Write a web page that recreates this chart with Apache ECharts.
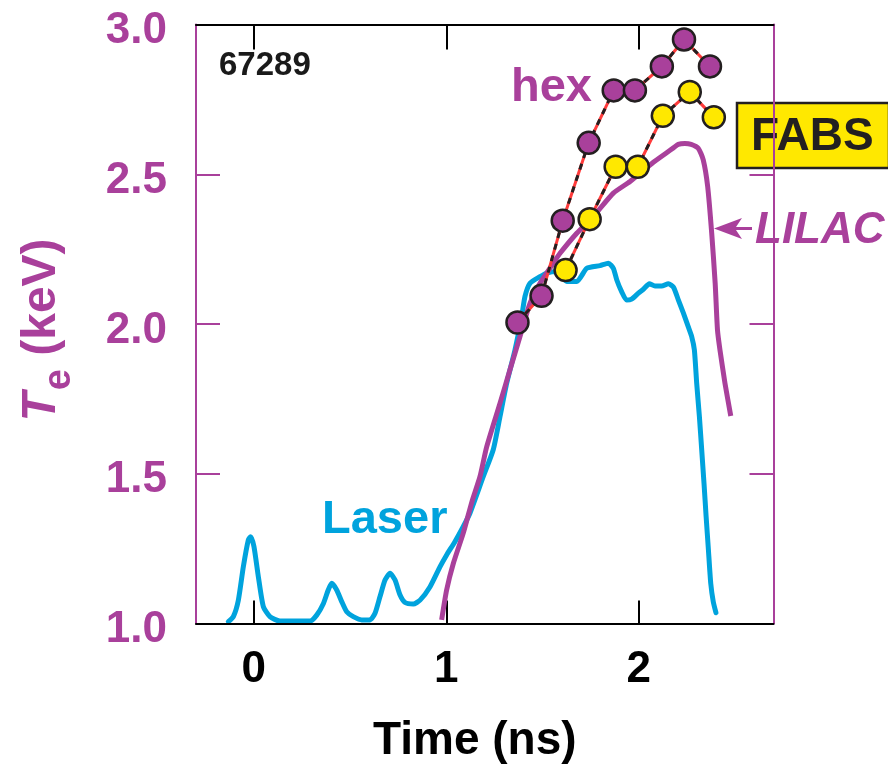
<!DOCTYPE html>
<html>
<head>
<meta charset="utf-8">
<script src="https://cdn.jsdelivr.net/npm/echarts@6/dist/echarts.min.js"></script>
<style>
  html, body { margin: 0; padding: 0; background: #fff; }
  #chart { width: 888px; height: 769px; }
</style>
</head>
<body>
<div id="chart"></div>
<script>
// Shot 67289: electron temperature vs time
const shotNumber = '67289';

// Laser pulse shape (scaled onto the Te axis)
const laserTime = [-0.132, -0.106, -0.08, -0.054, -0.028, -0.016, 0.001, 0.024, 0.05, 0.084, 0.136, 0.292, 0.327, 0.362, 0.387, 0.405, 0.431, 0.457, 0.483, 0.517, 0.561, 0.604, 0.63, 0.656, 0.682, 0.708, 0.734, 0.76, 0.786, 0.829, 0.864, 0.916, 0.968, 1.002, 1.045, 1.088, 1.123, 1.192, 1.244, 1.279, 1.314, 1.357, 1.392, 1.409, 1.435, 1.487, 1.522, 1.574, 1.626, 1.678, 1.73, 1.799, 1.842, 1.868, 1.886, 1.911, 1.937, 1.963, 1.998, 2.024, 2.055, 2.084, 2.119, 2.154, 2.18, 2.206, 2.232, 2.257, 2.275, 2.289, 2.301, 2.315, 2.327, 2.339, 2.35, 2.362, 2.374, 2.387, 2.401];
const laserTe = [1.006, 1.023, 1.078, 1.19, 1.279, 1.29, 1.257, 1.156, 1.056, 1.023, 1.008, 1.008, 1.028, 1.067, 1.112, 1.134, 1.112, 1.073, 1.039, 1.023, 1.012, 1.012, 1.034, 1.09, 1.145, 1.168, 1.145, 1.095, 1.07, 1.065, 1.078, 1.123, 1.19, 1.229, 1.273, 1.323, 1.368, 1.49, 1.58, 1.69, 1.802, 1.913, 2.025, 2.092, 2.136, 2.158, 2.17, 2.175, 2.142, 2.142, 2.186, 2.195, 2.203, 2.186, 2.147, 2.108, 2.08, 2.083, 2.103, 2.116, 2.134, 2.127, 2.127, 2.134, 2.123, 2.08, 2.036, 1.991, 1.958, 1.913, 1.802, 1.691, 1.58, 1.468, 1.357, 1.245, 1.134, 1.073, 1.036];

// LILAC simulation
const lilacTime = [0.976, 1.002, 1.037, 1.088, 1.135, 1.175, 1.21, 1.279, 1.331, 1.383, 1.435, 1.487, 1.556, 1.591, 1.678, 1.764, 1.868, 1.955, 2.076, 2.145, 2.18, 2.205, 2.24, 2.272, 2.309, 2.335, 2.358, 2.379, 2.397, 2.409, 2.422, 2.448, 2.478];
const lilacTe = [1.012, 1.112, 1.201, 1.301, 1.41, 1.49, 1.59, 1.735, 1.847, 1.958, 2.069, 2.136, 2.203, 2.236, 2.303, 2.359, 2.437, 2.476, 2.54, 2.572, 2.588, 2.6, 2.603, 2.6, 2.587, 2.548, 2.459, 2.303, 2.136, 1.98, 1.913, 1.802, 1.693];

// Measured: hex and FABS
const hexTime = [1.37, 1.495, 1.605, 1.74, 1.87, 1.98, 2.12, 2.235, 2.37];
const hexTe = [2.005, 2.094, 2.345, 2.605, 2.78, 2.78, 2.86, 2.95, 2.86];
const fabsTime = [1.62, 1.745, 1.88, 1.995, 2.125, 2.265, 2.39];
const fabsTe = [2.18, 2.35, 2.525, 2.525, 2.695, 2.775, 2.69];

// Axis ticks
const xTicks = [0, 1, 2];
const yTicks = [1.0, 1.5, 2.0, 2.5, 3.0];

const PURPLE = '#A9409B';
const CYAN = '#00A3DD';
const YELLOW = '#FFE800';
const RED = '#FF3B3B';
const INK = '#231F20';
const FONT = '"Liberation Sans", Arial, Helvetica, sans-serif';

const zip = (xs, ys) => xs.map((x, i) => [x, ys[i]]);

const chart = echarts.init(document.getElementById('chart'), null, { renderer: 'canvas' });

const connector = (name, data) => [
  {
    name: name, type: 'line', data: data, symbol: 'none', z: 3,
    lineStyle: { color: RED, width: 3 }
  },
  {
    name: name + ' dash', type: 'line', data: data, symbol: 'none', z: 4,
    lineStyle: { color: INK, width: 3, type: [6, 6] }
  }
];

const markers = (name, data, fill) => ({
  name: name, type: 'scatter', data: data, symbol: 'circle', symbolSize: 22, z: 5,
  itemStyle: { color: fill, borderColor: INK, borderWidth: 2.5, opacity: 1 }
});

const hexData = zip(hexTime, hexTe);
const fabsData = zip(fabsTime, fabsTe);

chart.setOption({
  animation: false,
  backgroundColor: '#fff',
  textStyle: { fontFamily: FONT },
  grid: { left: 196, right: 114.5, top: 24.5, bottom: 145.5, outerBoundsMode: 'none' },
  xAxis: [
    {
      type: 'value', position: 'bottom', min: -0.3, max: 2.7, z: 2,
      axisLine: { onZero: false, lineStyle: { color: '#000', width: 2 } },
      axisTick: { inside: true, length: 23, customValues: xTicks, lineStyle: { color: '#000', width: 2 } },
      axisLabel: {
        customValues: xTicks, margin: 24, color: '#000', fontSize: 44, fontWeight: 'bold',
        fontFamily: FONT, lineHeight: 44
      },
      splitLine: { show: false },
      name: 'Time (ns)', nameLocation: 'middle', nameGap: 95,
      nameTextStyle: { color: '#000', fontSize: 46, fontWeight: 'bold', fontFamily: FONT, lineHeight: 46, padding: [0, 20, 0, 0] }
    },
    {
      type: 'value', position: 'top', min: -0.3, max: 2.7, z: 2,
      axisLine: { onZero: false, lineStyle: { color: '#000', width: 2 } },
      axisTick: { inside: true, length: 25, customValues: xTicks, lineStyle: { color: '#000', width: 2 } },
      axisLabel: { show: false },
      splitLine: { show: false }
    }
  ],
  yAxis: [
    {
      type: 'value', position: 'left', min: 1, max: 3, interval: 0.5, z: 1,
      axisLine: { show: true, onZero: false, lineStyle: { color: PURPLE, width: 2 } },
      axisTick: { show: true, inside: true, length: 24, customValues: yTicks, lineStyle: { color: PURPLE, width: 2 } },
      axisLabel: {
        customValues: yTicks, margin: 29, color: PURPLE, fontSize: 44, fontWeight: 'bold', fontFamily: FONT,
        formatter: v => '{v|' + v.toFixed(1) + '}',
        rich: { v: { fontSize: 44, fontWeight: 'bold', color: PURPLE, fontFamily: FONT, lineHeight: 44, padding: [13, 0, 0, 0] } }
      },
      splitLine: { show: false },
      name: '{t|T}{s|e}{u| (keV)}', nameLocation: 'middle', nameRotate: 90, nameGap: 128,
      nameTextStyle: {
        color: PURPLE, fontFamily: FONT, padding: [0, 12, 0, 0],
        rich: {
          t: { fontSize: 48, fontWeight: 'bold', fontStyle: 'italic', color: PURPLE, fontFamily: FONT, lineHeight: 50, verticalAlign: 'top' },
          s: { fontSize: 38, fontWeight: 'bold', color: PURPLE, fontFamily: FONT, lineHeight: 38, padding: [23, 0, 0, 2], verticalAlign: 'top' },
          u: { fontSize: 48, fontWeight: 'bold', color: PURPLE, fontFamily: FONT, lineHeight: 50, verticalAlign: 'top' }
        }
      }
    },
    {
      type: 'value', position: 'right', min: 1, max: 3, interval: 0.5, z: 1,
      axisLine: { show: true, onZero: false, lineStyle: { color: PURPLE, width: 2 } },
      axisTick: { show: true, inside: true, length: 24, lineStyle: { color: PURPLE, width: 2 } },
      axisLabel: { show: false },
      splitLine: { show: false }
    }
  ],
  series: [
    {
      name: 'Laser', type: 'line', data: zip(laserTime, laserTe), symbol: 'none', smooth: 0.2, z: 1,
      lineStyle: { color: CYAN, width: 5, cap: 'round', join: 'round' }
    },
    {
      name: 'LILAC', type: 'line', data: zip(lilacTime, lilacTe), symbol: 'none', smooth: 0.2, z: 2,
      lineStyle: { color: PURPLE, width: 5, join: 'round' }
    },
    ...connector('hex', hexData),
    ...connector('FABS', fabsData),
    markers('hex', hexData, PURPLE),
    markers('FABS', fabsData, YELLOW)
  ],
  graphic: [
    {
      type: 'text', left: 219, top: 49,
      style: { text: shotNumber, fill: '#1a1a1a', font: 'bold 33px ' + FONT }
    },
    {
      type: 'text', x: 511, y: 88,
      style: { text: 'hex', fill: PURPLE, font: 'bold 47px ' + FONT, verticalAlign: 'middle' }
    },
    {
      type: 'rect', shape: { x: 737, y: 103, width: 152, height: 65 },
      style: { fill: YELLOW, stroke: INK, lineWidth: 2.5 }
    },
    {
      type: 'text', x: 751, y: 137.5,
      style: { text: 'FABS', fill: INK, font: 'bold 46px ' + FONT, verticalAlign: 'middle' }
    },
    {
      type: 'text', x: 755, y: 231,
      style: { text: 'LILAC', fill: PURPLE, font: 'italic bold 44px ' + FONT, verticalAlign: 'middle' }
    },
    {
      type: 'line', shape: { x1: 752, y1: 228.5, x2: 724, y2: 228.5 },
      style: { stroke: PURPLE, lineWidth: 3 }
    },
    {
      type: 'polygon', shape: { points: [[714, 228.5], [742, 218], [735, 228.5], [742, 239]] },
      style: { fill: PURPLE }
    },
    {
      type: 'text', x: 322, y: 520,
      style: { text: 'Laser', fill: CYAN, font: 'bold 47px ' + FONT, verticalAlign: 'middle' }
    }
  ]
});
</script>
</body>
</html>
